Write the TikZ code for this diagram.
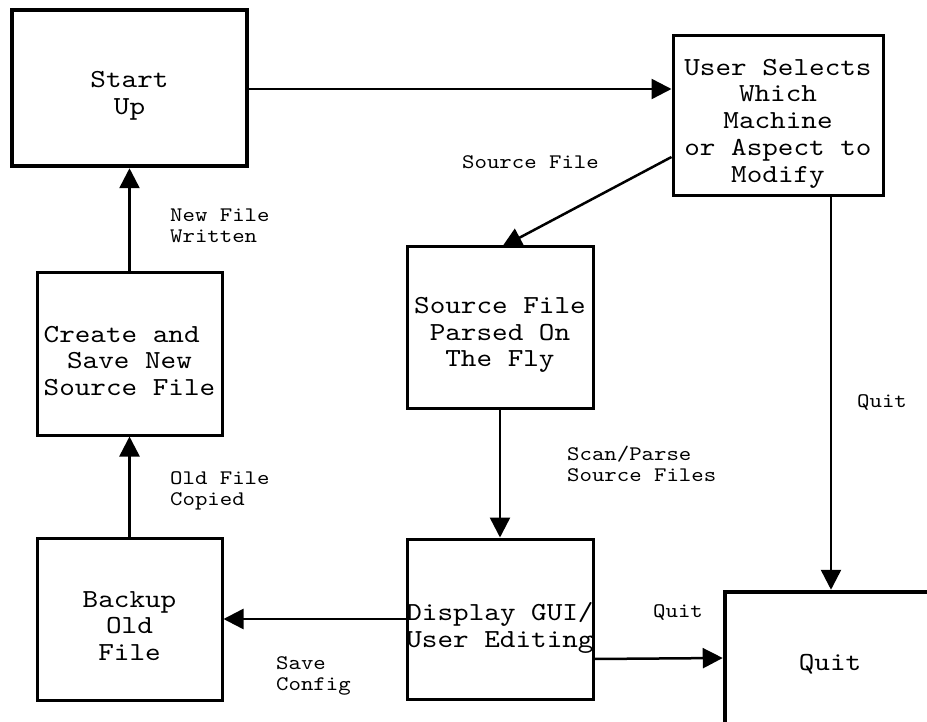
\documentclass[tikz,border=0pt]{standalone}
\usepackage{fontspec}
\newfontfamily\cour{lmmono10-regular.otf}[FakeStretch=1.143]
\usetikzlibrary{arrows.meta}
\tikzset{
  box/.style={draw=black, line width=3pt, rectangle, inner sep=0pt},
  thickbox/.style={box, line width=4.5pt},
  bigtext/.style={align=center, inner sep=0pt, yshift=-2pt, font=\cour\fontsize{26}{26.7}\selectfont},
  small/.style={align=left, inner sep=0pt, anchor=west, font=\cour\fontsize{20.7}{21}\selectfont},
  arr/.style={line width=2.5pt, -{Triangle[length=20pt,width=20pt]}},
}
\begin{document}
\begin{tikzpicture}[x=1pt,y=-1pt]
\useasboundingbox (0,0) rectangle (927,722);
\fill[white] (0,0) rectangle (927,722);
% boxes
\node[thickbox, minimum width=235pt, minimum height=156pt] (start) at (129.5,88) {};
\node[box, minimum width=210pt, minimum height=160pt] (user) at (778,116) {};
\node[box, minimum width=186pt, minimum height=161pt] (source) at (500,327.5) {};
\node[box, minimum width=186pt, minimum height=160pt] (display) at (500,619) {};
\node[box, minimum width=185pt, minimum height=162pt] (backup) at (129.5,619) {};
\node[box, minimum width=185pt, minimum height=162pt] (create) at (129.5,354) {};
\begin{scope}
\clip (0,0) rectangle (927,722);
\node[thickbox, minimum width=210pt, minimum height=140pt] (quit) at (830,662) {};
\end{scope}
% box texts
\node[bigtext] (startt) at (129.5,94) {Start\\Up};
\node[bigtext] (usert) at (778,121.5) {User Selects\\Which\\Machine\\or Aspect to\\Modify};
\node[bigtext] (sourcet) at (500,333) {Source File\\Parsed On\\The Fly};
\node[bigtext] (displayt) at (500,626) {Display GUI/\\User Editing};
\node[bigtext] (backupt) at (129.5,624) {Backup\\Old\\File};
\node[bigtext] (createt) at (129.5,359) {Create and\hphantom{x}\\Save New\\Source File};
\node[bigtext] (quitt) at (830,662) {Quit};
% connector endpoints
\coordinate (u1) at (user.west |- 0,157);
\coordinate (s1) at (502,247);
\draw[arr] (start.east |- 0,89) -- (user.west |- 0,89);
\draw[arr] (u1) -- (s1);
\draw[arr] (831,196) -- (quit.north -| 831,0);
\draw[arr] (source.south) -- (display.north);
\draw[arr] (display.east |- 0,659) -- (quit.west |- 0,658);
\draw[arr] (display.west) -- (backup.east);
\draw[arr] (backup.north) -- (create.south);
\draw[arr] (create.north) -- (start.south);
% labels
\node[small] (l1) at (462,162) {Source File};
\node[small] (l2) at (170,226) {New File\\Written};
\node[small] (l3) at (857,402) {Quit};
\node[small] (l4) at (567,464) {Scan/Parse\\Source Files};
\node[small] (l5) at (170,490.5) {Old File\\Copied};
\node[small] (l6) at (653,612) {Quit};
\node[small] (l7) at (276,676) {Save\\Config};
\end{tikzpicture}
\end{document}
